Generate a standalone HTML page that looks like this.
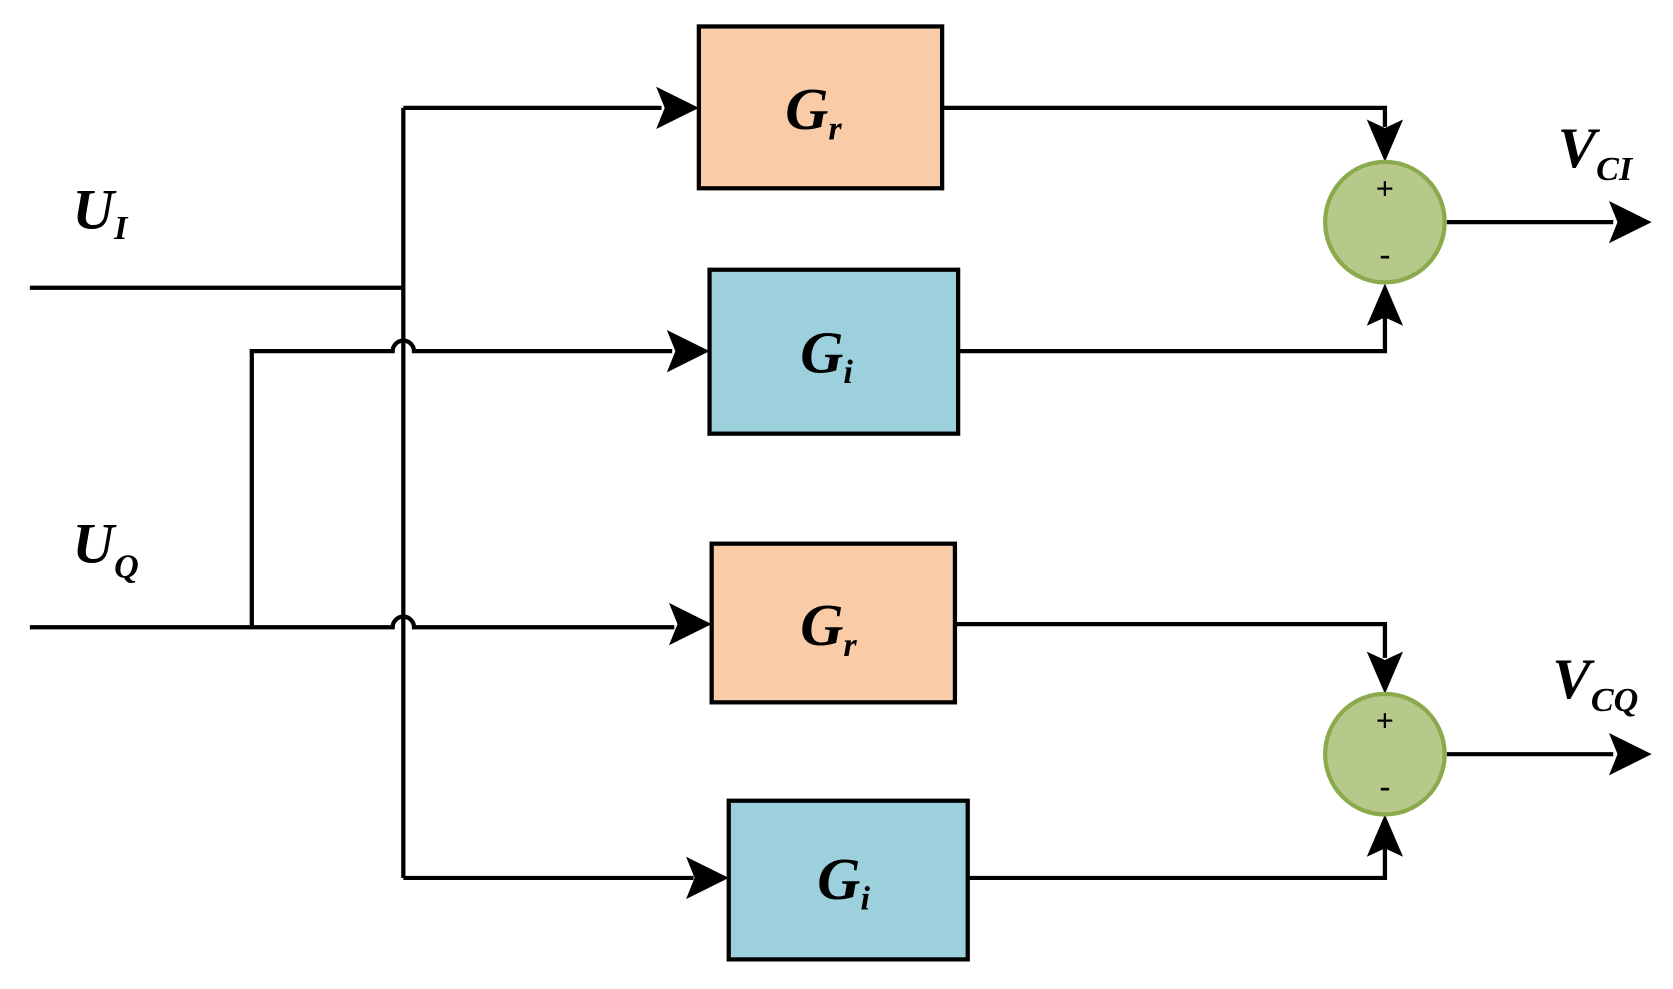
<!DOCTYPE html>
<html><head><meta charset="utf-8"><style>
html,body{margin:0;padding:0;background:#fff;}
svg{display:block;}
text{font-family:"Liberation Serif",serif;font-weight:bold;font-style:italic;fill:#000;}
</style></head><body>
<svg width="1673" height="989" viewBox="0 0 1568 935" preserveAspectRatio="none" xmlns="http://www.w3.org/2000/svg">
<defs>
<marker id="ar" markerWidth="10" markerHeight="10" refX="9" refY="5" orient="auto" markerUnits="userSpaceOnUse" viewBox="0 0 10 10">
</marker>
</defs>
<g stroke="#000" stroke-width="4" fill="none">
<!-- UI input -->
<path d="M28 272 H378"/>
<path d="M378 102 V830"/>
<path d="M378 102 H620"/>
<path d="M378 830 H650"/>
<!-- UQ input -->
<path d="M28 593 H368 a10 10 0 0 1 20 0 H632"/>
<path d="M236 593 V332 H368 a10 10 0 0 1 20 0 H630"/>
<!-- outputs -->
<path d="M883 102 H1298 V120"/>
<path d="M898 332 H1298 V300"/>
<path d="M895 590 H1298 V622"/>
<path d="M907 830 H1298 V800"/>
<path d="M1356 210 H1512"/>
<path d="M1356 713 H1512"/>
</g>
<g fill="#000">
<polygon points="655,102 615,82 623,102 615,122"/>
<polygon points="665,332 625,312 633,332 625,352"/>
<polygon points="667,590 627,570 635,590 627,610"/>
<polygon points="683,830 643,810 651,830 643,850"/>
<polygon points="1298,153 1281,113 1298,121 1315,113"/>
<polygon points="1298,268 1281,308 1298,300 1315,308"/>
<polygon points="1298,656 1281,616 1298,624 1315,616"/>
<polygon points="1298,770 1281,810 1298,802 1315,810"/>
<polygon points="1548,210 1508,190 1516,210 1508,230"/>
<polygon points="1548,713 1508,693 1516,713 1508,733"/>
</g>
<g stroke="#000" stroke-width="4">
<rect x="655" y="25" width="228" height="153" fill="#f9cba6"/>
<rect x="665" y="255" width="233" height="155" fill="#9dd0dd"/>
<rect x="667" y="514" width="228" height="150" fill="#f9cba6"/>
<rect x="683" y="757" width="224" height="150" fill="#9dd0dd"/>
</g>
<g stroke="#8aaa4c" stroke-width="4" fill="#b6c98a">
<ellipse cx="1298" cy="210" rx="56" ry="57"/>
<ellipse cx="1298" cy="713" rx="56" ry="57"/>
</g>
<g font-family="Liberation Sans" font-style="normal" font-weight="bold" style="font-style:normal;font-family:'Liberation Sans',sans-serif">
<text x="1298" y="188" font-size="30" text-anchor="middle" style="font-style:normal">+</text>
<text x="1298" y="250" font-size="30" text-anchor="middle" style="font-style:normal">-</text>
<text x="1298" y="691" font-size="30" text-anchor="middle" style="font-style:normal">+</text>
<text x="1298" y="753" font-size="30" text-anchor="middle" style="font-style:normal">-</text>
</g>
<text x="736" y="122" font-size="56">G<tspan font-size="32" dy="10">r</tspan></text>
<text x="750" y="352" font-size="56">G<tspan font-size="32" dy="10">i</tspan></text>
<text x="750" y="610" font-size="56">G<tspan font-size="32" dy="10">r</tspan></text>
<text x="766" y="850" font-size="56">G<tspan font-size="32" dy="10">i</tspan></text>
<text x="68" y="216" font-size="54">U<tspan font-size="32" dy="10">I</tspan></text>
<text x="68" y="532" font-size="54">U<tspan font-size="32" dy="14">Q</tspan></text>
<text x="1460" y="158" font-size="54">V<tspan font-size="32" dy="12">CI</tspan></text>
<text x="1455" y="660" font-size="54">V<tspan font-size="32" dy="12">CQ</tspan></text>
</svg>
</body></html>
